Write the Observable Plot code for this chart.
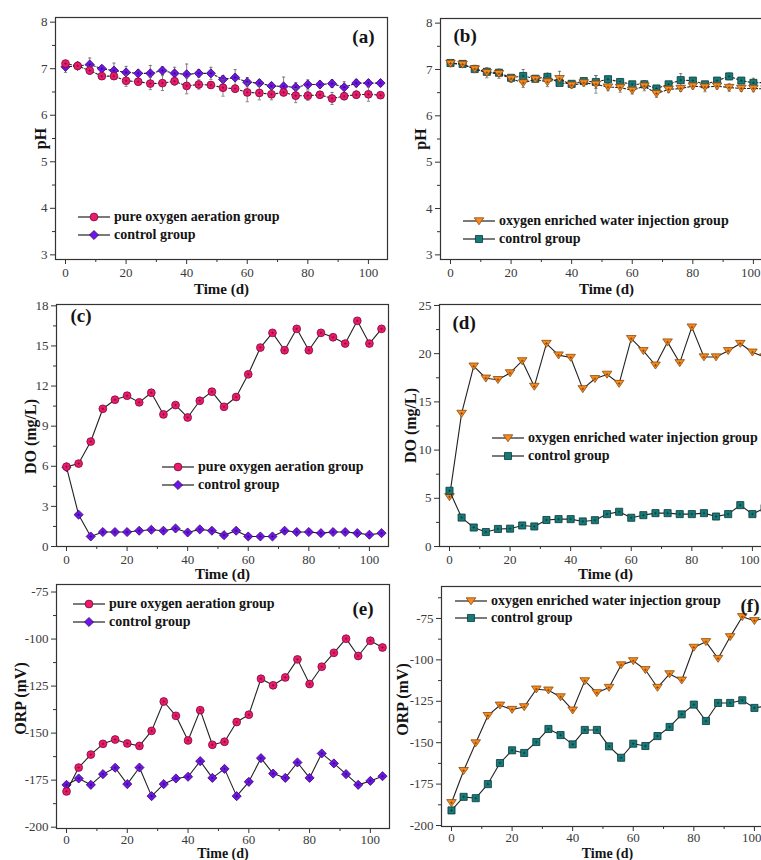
<!DOCTYPE html>
<html>
<head>
<meta charset="utf-8">
<script src="https://cdn.jsdelivr.net/npm/d3@7"></script>
<script src="https://cdn.jsdelivr.net/npm/@observablehq/plot@0.6"></script>
<style>
  html, body { margin: 0; padding: 0; background: #fff; }
  #fig { position: relative; width: 761px; height: 860px; overflow: hidden; background: #fff; }
  .panel { position: absolute; }
  .panel svg { max-width: none; display: block; }
  .legend { position: absolute; font: bold 14px 'Liberation Serif', 'Times New Roman', Times, serif; color: #141414; }
  .legend .row { display: flex; align-items: center; white-space: nowrap; }
  .legend .row svg { margin-right: 4px; flex: none; }
</style>
</head>
<body>
<div id="fig"></div>
<script>
// Sampling days
const days = [0, 4, 8, 12, 16, 20, 24, 28, 32, 36, 40, 44, 48, 52, 56, 60, 64, 68, 72, 76, 80, 84, 88, 92, 96, 100, 104];

// Axis ticks
const timeTicks = [0, 20, 40, 60, 80, 100];
const timeMinor = [10, 30, 50, 70, 90];
const phTicks = [3, 4, 5, 6, 7, 8];
const phMinor = [3.5, 4.5, 5.5, 6.5, 7.5];
const doTicksC = [0, 3, 6, 9, 12, 15, 18];
const doMinorC = [1.5, 4.5, 7.5, 10.5, 13.5, 16.5];
const doTicksD = [0, 5, 10, 15, 20, 25];
const doMinorD = [2.5, 7.5, 12.5, 17.5, 22.5];
const orpTicks = [-200, -175, -150, -125, -100, -75];
const orpMinorE = [-187.5, -162.5, -137.5, -112.5, -87.5];
const orpMinorF = [-187.5, -162.5, -137.5, -112.5, -87.5, -62.5];

// (a) pH, pure oxygen aeration vs control
const phAeration    = [7.11, 7.06, 6.96, 6.84, 6.84, 6.74, 6.72, 6.68, 6.69, 6.73, 6.63, 6.66, 6.65, 6.59, 6.57, 6.49, 6.48, 6.45, 6.49, 6.42, 6.42, 6.44, 6.36, 6.41, 6.44, 6.45, 6.43];
const phAerationErr = [0.07, 0.08, 0.08, 0.06, 0.07, 0.12, 0.07, 0.13, 0.16, 0.08, 0.17, 0.10, 0.07, 0.18, 0.08, 0.20, 0.15, 0.12, 0.07, 0.15, 0.10, 0.07, 0.13, 0.08, 0.08, 0.15, 0.06];
const phControlA    = [7.04, 7.06, 7.09, 7.00, 6.96, 6.92, 6.90, 6.90, 6.96, 6.90, 6.88, 6.90, 6.90, 6.77, 6.81, 6.71, 6.69, 6.63, 6.62, 6.60, 6.66, 6.66, 6.68, 6.60, 6.69, 6.69, 6.69];
const phControlAErr = [0.12, 0.07, 0.14, 0.06, 0.16, 0.13, 0.07, 0.17, 0.08, 0.13, 0.22, 0.08, 0.13, 0.08, 0.17, 0.10, 0.07, 0.07, 0.20, 0.10, 0.10, 0.07, 0.08, 0.12, 0.08, 0.07, 0.07];

// (b) pH, oxygen enriched water injection vs control
const phInjection    = [7.13, 7.11, 7.01, 6.93, 6.91, 6.80, 6.71, 6.79, 6.73, 6.80, 6.66, 6.71, 6.68, 6.62, 6.61, 6.55, 6.64, 6.48, 6.57, 6.59, 6.64, 6.62, 6.64, 6.61, 6.59, 6.59, 6.58];
const phInjectionErr = [0.07, 0.06, 0.08, 0.11, 0.10, 0.08, 0.10, 0.06, 0.10, 0.16, 0.06, 0.07, 0.19, 0.08, 0.10, 0.08, 0.10, 0.08, 0.07, 0.06, 0.06, 0.10, 0.06, 0.08, 0.06, 0.07, 0.06];
const phControlB     = [7.14, 7.12, 7.01, 6.95, 6.93, 6.82, 6.86, 6.80, 6.84, 6.71, 6.69, 6.75, 6.73, 6.79, 6.73, 6.68, 6.68, 6.59, 6.68, 6.77, 6.76, 6.68, 6.76, 6.85, 6.76, 6.71, 6.72];
const phControlBErr  = [0.05, 0.05, 0.05, 0.06, 0.06, 0.05, 0.14, 0.05, 0.08, 0.06, 0.05, 0.05, 0.14, 0.06, 0.06, 0.05, 0.08, 0.06, 0.05, 0.14, 0.06, 0.06, 0.06, 0.07, 0.06, 0.10, 0.06];

// (c) DO, pure oxygen aeration vs control
const doAeration = [5.97, 6.20, 7.85, 10.30, 10.98, 11.28, 10.78, 11.50, 9.88, 10.58, 9.65, 10.90, 11.58, 10.45, 11.18, 12.88, 14.88, 15.98, 14.68, 16.28, 14.68, 15.98, 15.65, 15.18, 16.88, 15.18, 16.28];
const doControlC = [5.93, 2.38, 0.75, 1.08, 1.08, 1.08, 1.18, 1.25, 1.18, 1.35, 1.05, 1.28, 1.18, 0.85, 1.18, 0.75, 0.75, 0.75, 1.18, 1.08, 1.08, 1.00, 1.08, 1.08, 1.00, 0.88, 1.00];

// (d) DO, oxygen enriched water injection vs control
const doInjection = [5.15, 13.80, 18.70, 17.45, 17.30, 18.00, 19.25, 16.60, 21.05, 19.85, 19.60, 16.35, 17.40, 17.85, 16.90, 21.55, 20.30, 18.80, 21.20, 19.05, 22.75, 19.65, 19.65, 20.30, 21.05, 20.15, 19.65];
const doControlD  = [5.78, 3.00, 1.97, 1.50, 1.82, 1.85, 2.18, 2.08, 2.75, 2.84, 2.84, 2.60, 2.73, 3.36, 3.60, 2.98, 3.25, 3.46, 3.46, 3.36, 3.36, 3.46, 3.11, 3.36, 4.29, 3.36, 3.98];

// (e) ORP, pure oxygen aeration vs control
const orpAeration = [-181.0, -168.3, -161.4, -155.7, -153.4, -155.5, -156.8, -148.8, -133.2, -140.8, -153.9, -137.8, -156.2, -154.6, -144.1, -140.2, -121.1, -124.6, -120.4, -110.8, -123.9, -114.7, -107.3, -99.8, -109.0, -100.9, -104.5];
const orpControlE = [-177.5, -174.1, -177.5, -171.8, -168.4, -177.1, -168.3, -183.5, -177.1, -174.1, -173.2, -164.9, -173.8, -169.0, -183.5, -175.9, -163.3, -171.5, -173.8, -165.6, -173.8, -160.8, -166.1, -171.8, -177.5, -175.4, -172.9];

// (f) ORP, oxygen enriched water injection vs control
const orpInjection = [-186.3, -166.9, -150.2, -133.7, -127.4, -130.0, -128.4, -117.7, -118.3, -122.4, -130.4, -112.7, -119.9, -116.7, -103.1, -100.6, -106.0, -116.7, -108.5, -112.3, -92.5, -89.1, -99.2, -86.1, -74.0, -76.4, -74.4];
const orpControlF  = [-190.9, -182.7, -183.5, -175.0, -162.3, -154.6, -156.2, -149.6, -141.7, -145.4, -151.0, -142.3, -142.3, -152.2, -159.1, -150.6, -152.0, -146.0, -140.5, -132.9, -127.0, -136.9, -126.0, -126.0, -124.4, -129.0, -127.8];

const labelAeration = "pure oxygen aeration group";
const labelInjection = "oxygen enriched water injection group";
const labelControl = "control group";

const SERIF = "'Liberation Serif', 'Times New Roman', Times, serif";

// Custom symbols: downward triangle, small crosshair, error-bar cap
const triangleDown = {
  draw(ctx, size) {
    const r = Math.sqrt(size / Math.PI);
    ctx.moveTo(-1.2 * r, -0.8 * r);
    ctx.lineTo(1.2 * r, -0.8 * r);
    ctx.lineTo(0, 0.95 * r);
    ctx.closePath();
  }
};
const crosshair = {
  draw(ctx, size) {
    const r = Math.sqrt(size / Math.PI);
    ctx.moveTo(-r, 0); ctx.lineTo(r, 0);
    ctx.moveTo(0, -r); ctx.lineTo(0, r);
  }
};
const capLine = {
  draw(ctx, size) {
    const r = Math.sqrt(size / Math.PI);
    ctx.moveTo(-r, 0); ctx.lineTo(r, 0);
  }
};

const styleAeration  = {fill: "#ec1a6e", stroke: "#7a0d35", symbol: "circle", r: 3.9, cross: "#5a0a28"};
const styleControlA  = {fill: "#7014e8", stroke: "#32086e", symbol: "diamond2", r: 4.1, cross: "#22054f"};
const styleInjection = {fill: "#f78b1f", stroke: "#8a4a0e", symbol: triangleDown, r: 4.0, cross: "#5a2e05"};
const styleControlB  = {fill: "#177a78", stroke: "#0a3937", symbol: "square", r: 4.0, cross: "#052826"};

function d3Symbol(s) {
  if (typeof s !== "string") return s;
  return {circle: d3.symbolCircle, diamond2: d3.symbolDiamond2, square: d3.symbolSquare}[s];
}

const fig = document.getElementById("fig");
const ML = 62, MR = 12, MT = 12, MB = 42;
const plainNumber = d => String(d);

function seriesMarks({values, err, style, dash}) {
  const rows = days.map((day, i) => ({day, value: values[i], err: err ? err[i] : 0}));
  const marks = [
    Plot.line(rows, {x: "day", y: "value", stroke: "#222", strokeWidth: 1.1, strokeDasharray: dash})
  ];
  if (err) {
    marks.push(
      Plot.ruleX(rows, {x: "day", y1: d => d.value - d.err, y2: d => d.value + d.err, stroke: "#666", strokeWidth: 0.8}),
      Plot.dot(rows, {x: "day", y: d => d.value + d.err, symbol: capLine, r: 1.6, fill: "none", stroke: "#666", strokeWidth: 0.8}),
      Plot.dot(rows, {x: "day", y: d => d.value - d.err, symbol: capLine, r: 1.6, fill: "none", stroke: "#666", strokeWidth: 0.8})
    );
  }
  marks.push(
    Plot.dot(rows, {x: "day", y: "value", symbol: style.symbol, r: style.r, fill: style.fill, stroke: style.stroke, strokeWidth: 0.8}),
    Plot.dot(rows, {x: "day", y: "value", symbol: crosshair, r: 1.3, fill: "none", stroke: style.cross, strokeWidth: 0.7, strokeOpacity: 0.8})
  );
  return marks;
}

function drawPanel(p) {
  const [fx0, fy0, fx1, fy1] = p.frame;
  const width = fx1 - fx0 + ML + MR;
  const height = fy1 - fy0 + MT + MB;
  const pad = p.xTickPadding ?? 3;
  const lastTick = timeTicks[timeTicks.length - 1];
  // panels on the right run into the page edge: their last time label is right-aligned
  const xTickText = p.edgeRight ? (d => d === lastTick ? "" : String(d)) : plainNumber;
  const chart = Plot.plot({
    width, height,
    marginLeft: ML, marginRight: MR, marginTop: MT, marginBottom: MB,
    x: {domain: [-3.3, 106.3], label: null},
    y: {domain: p.yDomain, label: null},
    style: {fontFamily: SERIF, fontSize: "13px", color: "#3a3a3a", background: "transparent", overflow: "visible"},
    marks: [
      Plot.axisX(timeTicks, {tickSize: 5, tickPadding: pad, stroke: "#333", fill: "#3a3a3a", fontSize: 13, tickFormat: xTickText, label: null}),
      p.edgeRight ? Plot.axisX([lastTick], {tickSize: 5, tickPadding: pad, stroke: null, fill: "#3a3a3a", fontSize: 13, textAnchor: "end", dx: 7, tickFormat: plainNumber, label: null}) : null,
      Plot.axisX(timeMinor, {tickSize: 3, stroke: "#333", fill: null, label: null}),
      Plot.axisY(p.yTicks, {tickSize: 5, tickPadding: 3, stroke: "#333", fill: "#3a3a3a", fontSize: 13, tickFormat: plainNumber, label: null}),
      Plot.axisY(p.yMinor, {tickSize: 3, stroke: "#333", fill: null, label: null}),
      ...p.series.flatMap(seriesMarks),
      Plot.frame({stroke: "#333", strokeWidth: 1.2}),
      Plot.text(["Time (d)"], {text: d => d, frameAnchor: "bottom", dy: p.xLabelDy, lineAnchor: "middle", fontWeight: "bold", fontSize: p.xLabelSize ?? 15, fill: "#141414"}),
      Plot.text([p.yLabel], {text: d => d, frameAnchor: "left", rotate: -90, dx: p.yLabelDx, dy: p.yLabelDy || 0, textAnchor: "middle", lineAnchor: "middle", fontWeight: "bold", fontSize: 16, fill: "#141414"}),
      Plot.text([p.tag], {text: d => d, frameAnchor: p.tagAnchor, dx: p.tagDx, dy: p.tagDy, textAnchor: p.tagAnchor === "top-right" ? "end" : "start", lineAnchor: "middle", fontWeight: "bold", fontSize: 19, fill: "#141414"})
    ]
  });
  const holder = document.createElement("div");
  holder.className = "panel";
  holder.style.left = (fx0 - ML) + "px";
  holder.style.top = (fy0 - MT) + "px";
  holder.style.width = width + "px";
  holder.style.height = height + "px";
  holder.appendChild(chart);
  fig.appendChild(holder);

  // legend inside the frame
  const lg = p.legend;
  const div = document.createElement("div");
  div.className = "legend";
  div.style.left = lg.left + "px";
  div.style.top = (lg.top - lg.gap / 2) + "px";
  lg.items.forEach(({label, style}) => {
    const row = document.createElement("div");
    row.className = "row";
    row.style.height = lg.gap + "px";
    const sw = d3.create("svg").attr("width", 32).attr("height", 14);
    sw.append("line").attr("x1", 0).attr("x2", 32).attr("y1", 7).attr("y2", 7)
      .attr("stroke", "#222").attr("stroke-width", 1.2);
    sw.append("path")
      .attr("transform", "translate(16,7)")
      .attr("d", d3.symbol(d3Symbol(style.symbol), Math.PI * style.r * style.r)())
      .attr("fill", style.fill).attr("stroke", style.stroke).attr("stroke-width", 0.8);
    row.appendChild(sw.node());
    const span = document.createElement("span");
    span.textContent = label;
    row.appendChild(span);
    div.appendChild(row);
  });
  fig.appendChild(div);
}

const panels = [
  {
    frame: [55, 17, 387, 259], yDomain: [2.9, 8.1], yTicks: phTicks, yMinor: phMinor,
    yLabel: "pH", yLabelDx: -15, xLabelDy: 30,
    tag: "(a)", tagAnchor: "top-right", tagDx: -13, tagDy: 19,
    series: [
      {values: phControlA, err: phControlAErr, style: styleControlA, dash: "2,2"},
      {values: phAeration, err: phAerationErr, style: styleAeration, dash: "2,2"}
    ],
    legend: {left: 78, top: 217, gap: 18, items: [{label: labelAeration, style: styleAeration}, {label: labelControl, style: styleControlA}]}
  },
  {
    frame: [440, 18, 772, 259], yDomain: [2.9, 8.1], yTicks: phTicks, yMinor: phMinor, edgeRight: true,
    yLabel: "pH", yLabelDx: -20, xLabelDy: 30,
    tag: "(b)", tagAnchor: "top-left", tagDx: 13, tagDy: 17,
    series: [
      {values: phControlB, err: phControlBErr, style: styleControlB, dash: "2,2"},
      {values: phInjection, err: phInjectionErr, style: styleInjection, dash: "2,2"}
    ],
    legend: {left: 463, top: 221, gap: 18, items: [{label: labelInjection, style: styleInjection}, {label: labelControl, style: styleControlB}]}
  },
  {
    frame: [56, 304, 388, 546], yDomain: [0, 18.1], yTicks: doTicksC, yMinor: doMinorC,
    yLabel: "DO (mg/L)", yLabelDx: -26, yLabelDy: 11, xLabelDy: 28,
    tag: "(c)", tagAnchor: "top-left", tagDx: 14, tagDy: 11,
    series: [
      {values: doControlC, style: styleControlA},
      {values: doAeration, style: styleAeration}
    ],
    legend: {left: 162, top: 467, gap: 18, items: [{label: labelAeration, style: styleAeration}, {label: labelControl, style: styleControlA}]}
  },
  {
    frame: [439, 304, 771, 546], yDomain: [0, 25.1], yTicks: doTicksD, yMinor: doMinorD, edgeRight: true,
    yLabel: "DO (mg/L)", yLabelDx: -29, xLabelDy: 28,
    tag: "(d)", tagAnchor: "top-left", tagDx: 13, tagDy: 18,
    series: [
      {values: doInjection, style: styleInjection},
      {values: doControlD, style: styleControlB}
    ],
    legend: {left: 492, top: 438, gap: 18, items: [{label: labelInjection, style: styleInjection}, {label: labelControl, style: styleControlB}]}
  },
  {
    frame: [56, 584, 389, 828], yDomain: [-200.7, -71], yTicks: orpTicks, yMinor: orpMinorE,
    yLabel: "ORP (mV)", yLabelDx: -36, yLabelDy: -8, xLabelDy: 25, xLabelSize: 14, xTickPadding: 1,
    tag: "(e)", tagAnchor: "top-right", tagDx: -16, tagDy: 24,
    series: [
      {values: orpControlE, style: styleControlA},
      {values: orpAeration, style: styleAeration}
    ],
    legend: {left: 73, top: 604, gap: 18, items: [{label: labelAeration, style: styleAeration}, {label: labelControl, style: styleControlA}]}
  },
  {
    frame: [441, 586, 773, 826], yDomain: [-200.6, -55.7], yTicks: orpTicks, yMinor: orpMinorF, edgeRight: true,
    yLabel: "ORP (mV)", yLabelDx: -39, yLabelDy: -7, xLabelDy: 27, xLabelSize: 14, xTickPadding: 1,
    tag: "(f)", tagAnchor: "top-left", tagDx: 299, tagDy: 19,
    series: [
      {values: orpControlF, style: styleControlB},
      {values: orpInjection, style: styleInjection}
    ],
    legend: {left: 455, top: 601, gap: 17, items: [{label: labelInjection, style: styleInjection}, {label: labelControl, style: styleControlB}]}
  }
];

panels.forEach(drawPanel);
</script>
</body>
</html>
